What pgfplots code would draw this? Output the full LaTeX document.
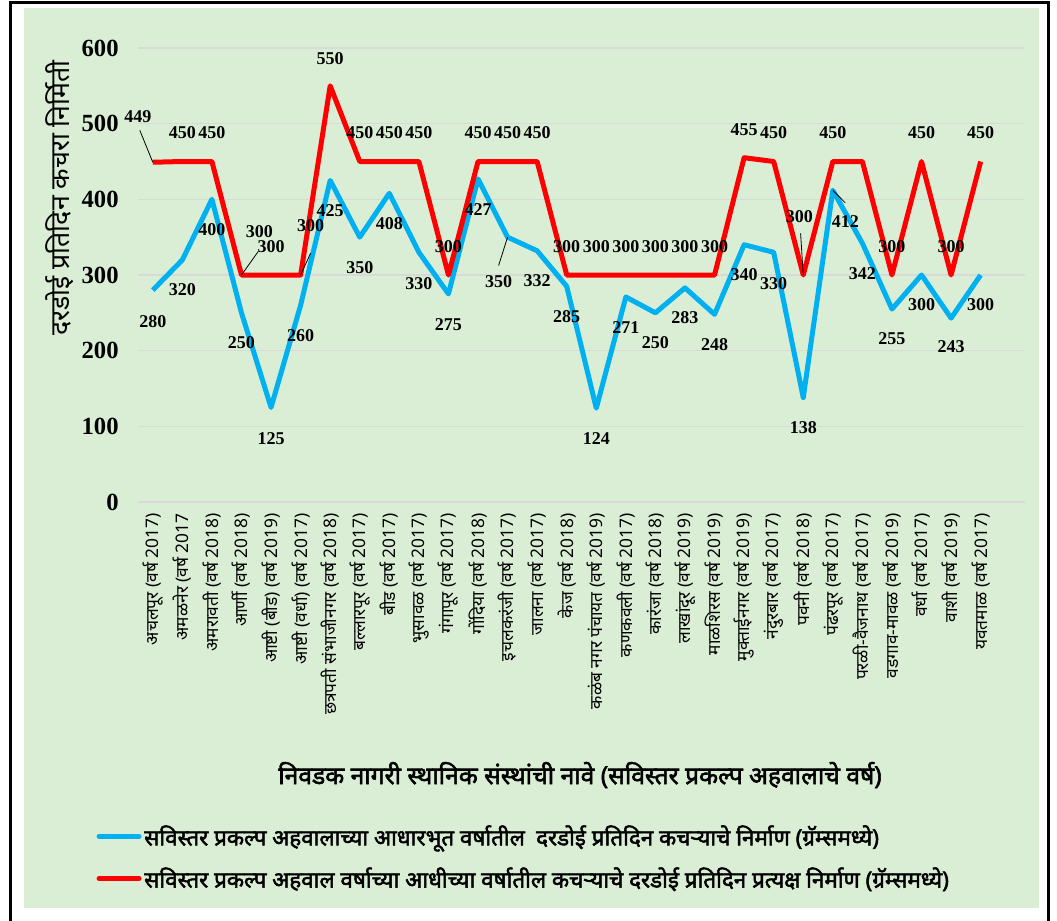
\documentclass[border=0pt]{standalone}
\usepackage{fontspec}
\setmainfont{Liberation Serif}
\newfontfamily\dev[Script=Devanagari]{Noto Sans}
\newfontfamily\devb[Script=Devanagari,FakeBold=2.2]{Noto Sans}
\usepackage{pgfplots}
\pgfplotsset{compat=1.18}
\usepackage{pgfplotstable}
\definecolor{bg}{RGB}{218,238,213}
\definecolor{sky}{RGB}{0,176,240}
\definecolor{grd}{RGB}{217,217,217}

% x = category index, y = value, dx/up = label offset in px (up positive)
\pgfplotstableread{
x y dx up
0 280 0 -31
1 320 0 -29.4
2 400 0 -30.7
3 250 0 -30
4 125 0 -31
5 260 0 -30.7
6 425 0 -30.6
7 350 0 -30.5
8 408 0 -30
9 330 0 -31
10 275 0 -30.4
11 427 0 -30.4
12 350 -9 -44.5
13 332 0 -30
14 285 0 -30.4
15 124 0 -30
16 271 0 -30.4
17 250 0 -30
18 283 0 -29.8
19 248 0 -30.7
20 340 0 -30.3
21 330 0 -31
22 138 0 -30
23 412 12.6 -30.8
24 342 0 -30
25 255 0 -29.3
26 300 0 -29.3
27 243 0 -28.6
28 300 0 -29.3
}\blueT

\pgfplotstableread{
x y dx up
0 449 -15 46
1 450 0 29
2 450 0 29
3 300 18 43
4 300 0 28
5 300 10 49
6 550 0 27.5
7 450 0 29
8 450 0 29
9 450 0 29
10 300 0 28
11 450 0 29
12 450 0 29
13 450 0 29
14 300 0 28
15 300 0 28
16 300 0 28
17 300 0 28
18 300 0 28
19 300 0 28
20 455 0 28
21 450 0 29
22 300 -4 58
23 450 0 29
24 450 0 29
25 300 0 28
26 450 0 29
27 300 0 28
28 450 0 29
}\redT

\begin{document}
\begin{tikzpicture}
\fill[white] (0,0) rectangle (792.75pt,690.75pt);
\fill[bg] (18pt,9.75pt) rectangle (779.25pt,684.75pt);
\draw[line width=2.25pt] (7.875pt,-3pt) -- (7.875pt,688.875pt) -- (786.375pt,688.875pt) -- (786.375pt,-3pt);
\begin{axis}[
  at={(103.5pt,314.25pt)}, anchor=south west,
  scale only axis, width=665.25pt, height=340.5pt,
  xmin=-0.5, xmax=29.5, ymin=0, ymax=600,
  ytick={0,100,...,600},
  xtick={0,...,28},
  xticklabels={
    अचलपूर (वर्ष 2017), अमळनेर (वर्ष 2017, अमरावती (वर्ष 2018), आर्णी (वर्ष 2018),
    आष्टी (बीड) (वर्ष 2019), आष्टी (वर्धा) (वर्ष 2017), छत्रपती संभाजीनगर (वर्ष 2018),
    बल्लारपूर (वर्ष 2017), बीड (वर्ष 2017), भुसावळ (वर्ष 2017), गंगापूर (वर्ष 2017),
    गोंदिया (वर्ष 2018), इचलकरंजी (वर्ष 2017), जालना (वर्ष 2017), केज (वर्ष 2018),
    कळंब नगर पंचायत (वर्ष 2019), कणकवली (वर्ष 2017), कारंजा (वर्ष 2018),
    लाखांदूर (वर्ष 2019), माळशिरस (वर्ष 2019), मुक्ताईनगर (वर्ष 2019),
    नंदुरबार (वर्ष 2017), पवनी (वर्ष 2018), पंढरपूर (वर्ष 2017),
    परळी-वैजनाथ (वर्ष 2017), वडगाव-मावळ (वर्ष 2019), वर्धा (वर्ष 2017),
    वाशी (वर्ष 2019), यवतमाळ (वर्ष 2017)},
  xticklabel style={font=\dev\fontsize{13}{14}\selectfont, rotate=90, anchor=east, xshift=-5pt},
  yticklabel style={font=\bfseries\fontsize{18.5}{20}\selectfont, anchor=east, xshift=-11pt},
  /pgf/number format/assume math mode=true,
  axis line style={draw=none},
  major tick length=0pt,
  ymajorgrids, grid style={grd, line width=1.1pt},
  clip=false,
  legend cell align=left,
  legend style={at={(axis description cs:-0.047,-0.70)}, anchor=north west,
    draw=none, fill=none, row sep=11pt, inner xsep=0pt,
    nodes={inner xsep=2pt},
    font=\devb\fontsize{16.8}{18}\selectfont},
  legend image code/.code={\draw[#1, line width=3.75pt, line cap=round] (0pt,0pt) -- (30pt,0pt);},
]
\addplot[sky, line width=3.75pt, line join=round, mark=none] table[x=x,y=y]{\blueT};
\addlegendentry{सविस्तर प्रकल्प अहवालाच्या आधारभूत वर्षातील\enspace दरडोई प्रतिदिन कचऱ्याचे निर्माण (ग्रॅम्समध्ये)}
\addplot[red, line width=3.75pt, line join=round, mark=none] table[x=x,y=y]{\redT};
\addlegendentry{सविस्तर प्रकल्प अहवाल वर्षाच्या आधीच्या वर्षातील कचऱ्याचे दरडोई प्रतिदिन प्रत्यक्ष निर्माण (ग्रॅम्समध्ये)}

\addplot[draw=none, mark=none, forget plot, point meta=explicit,
  nodes near coords,
  visualization depends on={\thisrow{dx} \as \ldx},
  visualization depends on={\thisrow{up} \as \lup},
  nodes near coords style={anchor=center, text=black, xshift=\ldx*0.75pt, yshift=\lup*0.75pt,
    font=\bfseries\fontsize{13.5}{15}\selectfont}]
  table[x=x,y=y,meta=y]{\blueT};
\addplot[draw=none, mark=none, forget plot, point meta=explicit,
  skip coords between index={24}{25},
  nodes near coords,
  visualization depends on={\thisrow{dx} \as \ldx},
  visualization depends on={\thisrow{up} \as \lup},
  nodes near coords style={anchor=center, text=black, xshift=\ldx*0.75pt, yshift=\lup*0.75pt,
    font=\bfseries\fontsize{13.5}{15}\selectfont}]
  table[x=x,y=y,meta=y]{\redT};

% leader lines
\draw[black, line width=0.6pt] (axis cs:0,449) -- ++(-9.75pt,24pt);
\draw[black, line width=0.6pt] (axis cs:3,300) -- ++(12.45pt,17.5pt);
\draw[black, line width=0.6pt] (axis cs:5,300) -- ++(7.5pt,16.3pt);
\draw[black, line width=0.6pt] (axis cs:12,350) -- ++(-6.75pt,-21.3pt);
\draw[black, line width=0.6pt] (axis cs:22,300) -- ++(-2pt,31.2pt);
\draw[black, line width=0.6pt] (axis cs:23,412) -- ++(9.3pt,-9.45pt);
\end{axis}
\node[rotate=90, font=\dev\fontsize{20}{22}\selectfont] at (45pt,542.25pt) {दरडोई प्रतिदिन कचरा निर्मिती};
\node[font=\devb\fontsize{18.5}{20}\selectfont] at (435pt,109.5pt) {निवडक नागरी स्थानिक संस्थांची नावे (सविस्तर प्रकल्प अहवालाचे वर्ष)};
\pgfresetboundingbox
\path (0,0) rectangle (792.75pt,690.75pt);
\end{tikzpicture}
\end{document}
